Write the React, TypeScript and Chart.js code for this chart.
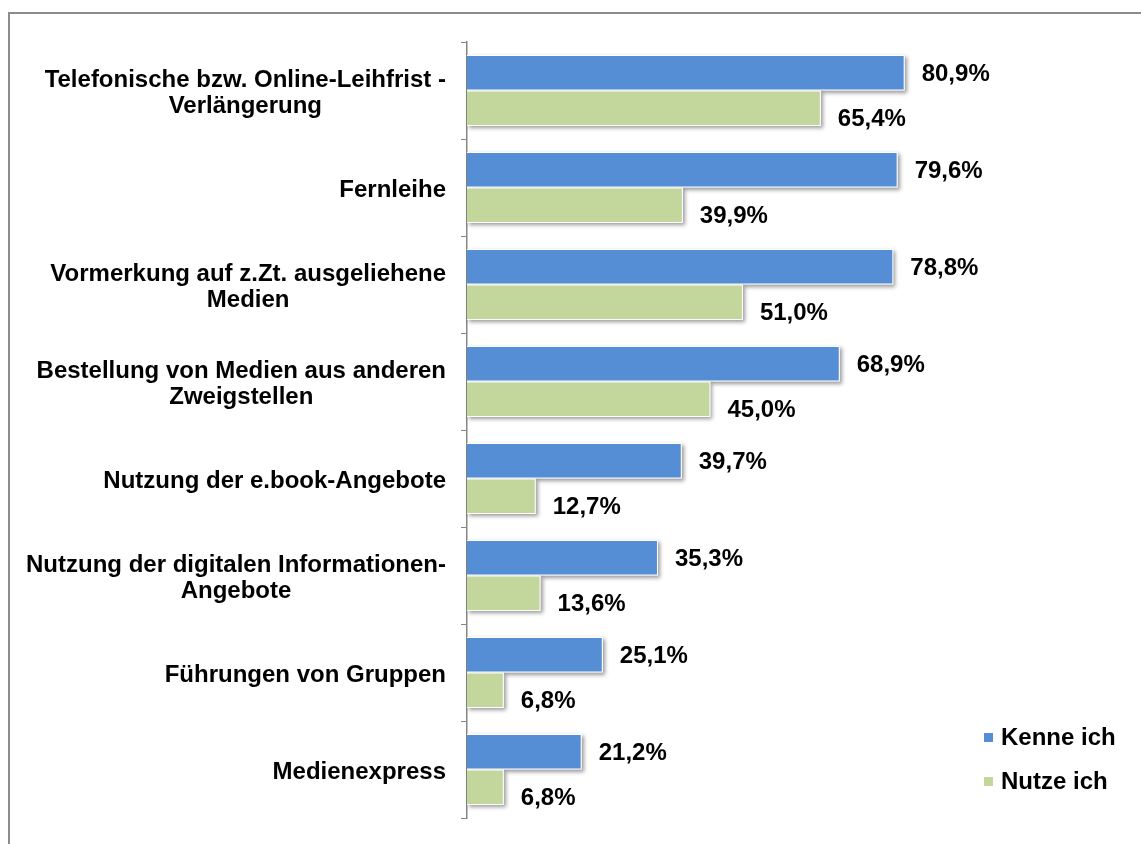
import React, { useEffect, useRef } from "react";
import { Chart, registerables } from "chart.js";

Chart.register(...registerables);

const categories: string[][] = [
  ["Telefonische bzw. Online-Leihfrist -", "Verlängerung"],
  ["Fernleihe"],
  ["Vormerkung auf z.Zt. ausgeliehene", "Medien"],
  ["Bestellung von Medien aus anderen", "Zweigstellen"],
  ["Nutzung der e.book-Angebote"],
  ["Nutzung der digitalen Informationen-", "Angebote"],
  ["Führungen von Gruppen"],
  ["Medienexpress"],
];

const kenneIch = [80.9, 79.6, 78.8, 68.9, 39.7, 35.3, 25.1, 21.2];
const nutzeIch = [65.4, 39.9, 51.0, 45.0, 12.7, 13.6, 6.8, 6.8];

const seriesNames = ["Kenne ich", "Nutze ich"];
const seriesColors = ["#558ED5", "#C3D69B"];

const FONT = "bold 24px 'Liberation Sans', Arial, Helvetica, sans-serif";

const shadowPlugin = {
  id: "barShadow",
  beforeDatasetsDraw(chart: any) {
    const ctx = chart.ctx;
    ctx.save();
    ctx.shadowColor = "rgba(0,0,0,0.4)";
    ctx.shadowBlur = 4;
    ctx.shadowOffsetX = 2;
    ctx.shadowOffsetY = 2;
    ctx.fillStyle = "#ffffff";
    chart.data.datasets.forEach((_: any, di: number) => {
      const meta = chart.getDatasetMeta(di);
      meta.data.forEach((bar: any) => {
        const left = Math.min(bar.base, bar.x);
        const right = Math.max(bar.base, bar.x);
        const top = bar.y - bar.height / 2;
        ctx.fillRect(left, top, right - left, bar.height);
      });
    });
    ctx.restore();
  },
};

const labelPlugin = {
  id: "customLabels",
  afterDraw(chart: any) {
    const ctx = chart.ctx;
    ctx.save();
    ctx.font = FONT;
    ctx.fillStyle = "#000000";
    // value labels
    const offsets = [2, 11];
    chart.data.datasets.forEach((ds: any, di: number) => {
      const meta = chart.getDatasetMeta(di);
      meta.data.forEach((bar: any, i: number) => {
        const v = ds.data[i] as number;
        const txt = v.toFixed(1).replace(".", ",") + "%";
        ctx.textAlign = "left";
        ctx.textBaseline = "middle";
        ctx.fillText(txt, bar.x + 17, bar.y + offsets[di]);
      });
    });
    // category labels
    const yScale = chart.scales.y;
    const rightEdge = 446;
    categories.forEach((lines, i) => {
      const yc = yScale.getPixelForValue(i);
      const maxW = Math.max(...lines.map((l) => ctx.measureText(l).width));
      const cx = rightEdge - maxW / 2;
      ctx.textAlign = "center";
      ctx.textBaseline = "alphabetic";
      lines.forEach((l, j) => {
        const y = yc + 9 + (j - (lines.length - 1) / 2) * 26;
        ctx.fillText(l, cx, y);
      });
    });
    // legend
    const legendY = [737.5, 781.5];
    seriesNames.forEach((name, k) => {
      ctx.fillStyle = seriesColors[k];
      ctx.fillRect(984, legendY[k] - 4.5, 9, 9);
      ctx.fillStyle = "#000000";
      ctx.textAlign = "left";
      ctx.textBaseline = "middle";
      ctx.fillText(name, 1001, legendY[k] + 1);
    });
    ctx.restore();
  },
};

export default function App() {
  const canvasRef = useRef<HTMLCanvasElement | null>(null);

  useEffect(() => {
    if (!canvasRef.current) return;
    const chart = new Chart(canvasRef.current, {
      type: "bar",
      data: {
        labels: categories.map((c) => c.join(" ")),
        datasets: [
          {
            label: seriesNames[0],
            data: kenneIch,
            backgroundColor: seriesColors[0],
            borderColor: "#ffffff",
            borderWidth: 1,
            categoryPercentage: 0.73,
            barPercentage: 1,
          },
          {
            label: seriesNames[1],
            data: nutzeIch,
            backgroundColor: seriesColors[1],
            borderColor: "#ffffff",
            borderWidth: 1,
            categoryPercentage: 0.73,
            barPercentage: 1,
          },
        ],
      },
      options: {
        indexAxis: "y",
        animation: false,
        responsive: true,
        maintainAspectRatio: false,
        layout: { padding: { top: 42, bottom: 26, left: 0, right: 133 } },
        plugins: {
          legend: { display: false },
          title: { display: false },
          tooltip: { enabled: false },
        },
        scales: {
          x: {
            display: false,
            min: 0,
            max: 100,
          },
          y: {
            position: "left",
            grid: {
              display: true,
              drawOnChartArea: false,
              drawTicks: true,
              tickLength: 6,
              color: "#868686",
              lineWidth: 1,
              offset: true,
            },
            border: { display: true, color: "#868686", width: 1.5 },
            ticks: { display: false },
            afterFit: (s: any) => {
              s.width = 467;
            },
          },
        },
      },
      plugins: [shadowPlugin, labelPlugin],
    } as any);
    return () => chart.destroy();
  }, []);

  return (
    <>
      <div
        style={{
          position: "fixed",
          left: 8,
          top: 12,
          right: 0,
          bottom: 0,
          borderTop: "2px solid #8c8c8c",
          borderLeft: "2px solid #8c8c8c",
          background: "#ffffff",
        }}
      />
      <div
        style={{
          position: "fixed",
          left: 0,
          top: 0,
          width: 1141,
          height: 844,
        }}
      >
        <canvas ref={canvasRef} />
      </div>
    </>
  );
}
